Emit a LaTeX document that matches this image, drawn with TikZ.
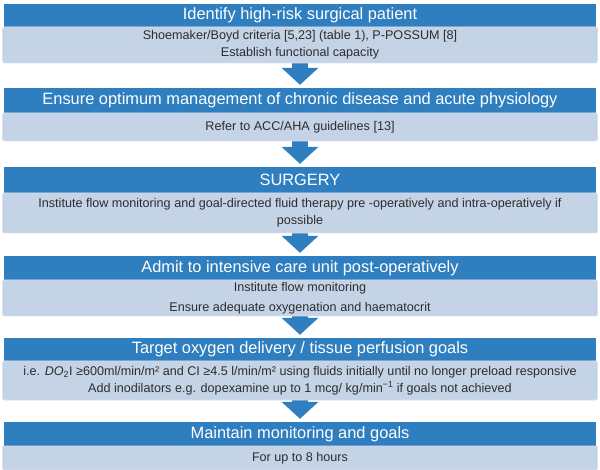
\documentclass[tikz,border=0pt]{standalone}
\usepackage{fontspec}
\setmainfont{Liberation Sans}
\usetikzlibrary{arrows.meta,calc,backgrounds}
\definecolor{hdrblue}{RGB}{46,126,192}
\definecolor{lightbox}{RGB}{197,211,231}
\definecolor{lightedge}{RGB}{214,224,238}
\definecolor{bodytxt}{RGB}{45,45,45}
\tikzset{
  hdr/.style={fill=hdrblue, text=white, minimum width=592pt, inner sep=0pt, font=\fontsize{16.4}{18}\selectfont},
  body/.style={fill=lightbox, draw=lightedge, line width=0.8pt, rounded corners=2pt, text=bodytxt, minimum width=595pt, inner sep=0pt, align=center, font=\fontsize{12.6}{17}\selectfont},
  flow/.style={draw=hdrblue, line width=16pt, -{Triangle[width=36pt,length=17pt]}, shorten >=3pt}
}
\begin{document}
\begin{tikzpicture}[x=1pt,y=1pt]
\useasboundingbox (0,0) rectangle (600,-470);
\node[hdr, minimum height=23pt] (h1) at (300,-15.5) {Identify high-risk surgical patient};
\node[body, minimum height=36pt] (l1) at (300,-45) {Shoemaker/Boyd criteria [5,23] (table 1), P-POSSUM [8]\\Establish functional capacity};
\node[hdr, minimum height=25pt] (h2) at (300,-100.5) {Ensure optimum management of chronic disease and acute physiology};
\node[body, minimum height=28pt] (l2) at (300,-127) {Refer to ACC/AHA guidelines [13]};
\node[hdr, minimum height=26pt] (h3) at (300,-180) {SURGERY};
\node[body, minimum height=40pt] (l3) at (300,-213) {Institute flow monitoring and goal-directed fluid therapy pre -operatively and intra-operatively if\\possible};
\node[hdr, minimum height=24pt] (h4) at (300,-268) {Admit to intensive care unit post-operatively};
\node[body, minimum height=36pt] (l4) at (300,-298) {Institute flow monitoring\\[3pt]Ensure adequate oxygenation and haematocrit};
\node[hdr, minimum height=23pt] (h5) at (300,-349.5) {Target oxygen delivery / tissue perfusion goals};
\node[body, minimum height=39pt] (l5) at (300,-380.5) {i.e. \textit{DO}\textsubscript{2}I ≥600ml/min/m² and CI ≥4.5 l/min/m² using fluids initially until no longer preload responsive\\Add inodilators e.g. dopexamine up to 1 mcg/ kg/min\textsuperscript{−1} if goals not achieved};
\node[hdr, minimum height=24pt] (h6) at (300,-434) {Maintain monitoring and goals};
\node[body, minimum height=24pt] (l6) at (300,-458) {For up to 8 hours};
\begin{scope}[on background layer]
\draw[flow] (l1.south) -- (h2.north);
\draw[flow] (l2.south) -- (h3.north);
\draw[flow] (l3.south) -- (h4.north);
\draw[flow] (l4.south) -- (h5.north);
\draw[flow] (l5.south) -- (h6.north);
\end{scope}
\end{tikzpicture}
\end{document}
